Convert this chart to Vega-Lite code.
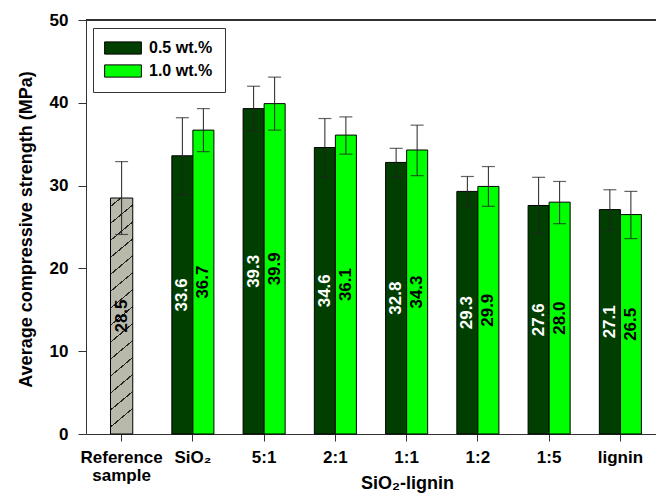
{
  "$schema": "https://vega.github.io/schema/vega-lite/v6.json",
  "width": 570,
  "height": 414,
  "autosize": {"type": "none"},
  "padding": {"left": 86, "top": 20, "right": 0, "bottom": 60},
  "background": "white",
  "config": {
    "view": {"stroke": null},
    "font": "Liberation Sans",
    "axis": {
      "labelFont": "Liberation Sans", "labelFontWeight": "bold", "labelFontSize": 17, "labelColor": "black",
      "titleFont": "Liberation Sans", "titleFontWeight": "bold", "titleFontSize": 18, "titleColor": "black",
      "domainColor": "#333", "tickColor": "#333", "grid": false, "tickSize": 7
    },
    "legend": {
      "labelFont": "Liberation Sans", "labelFontWeight": "bold", "labelFontSize": 16, "labelColor": "black"
    }
  },
  "data": {
    "values": [
      {"cat": "Reference sample", "series": "ref", "value": 28.5, "lo": 24.1, "hi": 32.9},
      {"cat": "SiO₂", "series": "0.5 wt.%", "value": 33.6, "lo": 28.9, "hi": 38.2},
      {"cat": "SiO₂", "series": "1.0 wt.%", "value": 36.7, "lo": 34.1, "hi": 39.3},
      {"cat": "5:1", "series": "0.5 wt.%", "value": 39.3, "lo": 36.6, "hi": 42.0},
      {"cat": "5:1", "series": "1.0 wt.%", "value": 39.9, "lo": 36.7, "hi": 43.1},
      {"cat": "2:1", "series": "0.5 wt.%", "value": 34.6, "lo": 31.0, "hi": 38.1},
      {"cat": "2:1", "series": "1.0 wt.%", "value": 36.1, "lo": 33.8, "hi": 38.3},
      {"cat": "1:1", "series": "0.5 wt.%", "value": 32.8, "lo": 31.0, "hi": 34.5},
      {"cat": "1:1", "series": "1.0 wt.%", "value": 34.3, "lo": 31.2, "hi": 37.3},
      {"cat": "1:2", "series": "0.5 wt.%", "value": 29.3, "lo": 27.5, "hi": 31.1},
      {"cat": "1:2", "series": "1.0 wt.%", "value": 29.9, "lo": 27.5, "hi": 32.3},
      {"cat": "1:5", "series": "0.5 wt.%", "value": 27.6, "lo": 24.2, "hi": 31.0},
      {"cat": "1:5", "series": "1.0 wt.%", "value": 28.0, "lo": 25.4, "hi": 30.5},
      {"cat": "lignin", "series": "0.5 wt.%", "value": 27.1, "lo": 24.6, "hi": 29.5},
      {"cat": "lignin", "series": "1.0 wt.%", "value": 26.5, "lo": 23.6, "hi": 29.3}
    ]
  },
  "encoding": {
    "x": {
      "field": "cat", "type": "nominal",
      "scale": {"domain": ["Reference sample", "SiO₂", "5:1", "2:1", "1:1", "1:2", "1:5", "lignin"], "paddingInner": 0.41, "paddingOuter": 0.205},
      "axis": {
        "labelAngle": 0, "labelPadding": 8, "labelLineHeight": 18,
        "labelExpr": "datum.label == 'Reference sample' ? ['Reference', 'sample'] : datum.label",
        "title": "SiO₂-lignin", "titleX": 321, "titleY": 54, "titleBaseline": "alphabetic", "titleAlign": "center"
      }
    }
  },
  "layer": [
    {
      "mark": {"type": "rule", "color": "#333", "strokeWidth": 1},
      "encoding": {"y": {"datum": 50, "type": "quantitative"}, "x": null}
    },
    {
      "transform": [{"filter": "datum.series == 'ref'"}],
      "mark": {
        "type": "bar", "width": {"band": 0.53}, "stroke": "black", "strokeWidth": 1,
        "fill": {
          "gradient": "linear", "x1": 0, "y1": 0, "x2": 0.079, "y2": 1,
          "stops": [
            {"offset": 0, "color": "#b9b9ab"},
            {"offset": 0.0327, "color": "#b9b9ab"}, {"offset": 0.0327, "color": "#222"}, {"offset": 0.0387, "color": "#222"}, {"offset": 0.0387, "color": "#b9b9ab"},
            {"offset": 0.1041, "color": "#b9b9ab"}, {"offset": 0.1041, "color": "#222"}, {"offset": 0.1101, "color": "#222"}, {"offset": 0.1101, "color": "#b9b9ab"},
            {"offset": 0.1756, "color": "#b9b9ab"}, {"offset": 0.1756, "color": "#222"}, {"offset": 0.1816, "color": "#222"}, {"offset": 0.1816, "color": "#b9b9ab"},
            {"offset": 0.247, "color": "#b9b9ab"}, {"offset": 0.247, "color": "#222"}, {"offset": 0.253, "color": "#222"}, {"offset": 0.253, "color": "#b9b9ab"},
            {"offset": 0.3184, "color": "#b9b9ab"}, {"offset": 0.3184, "color": "#222"}, {"offset": 0.3244, "color": "#222"}, {"offset": 0.3244, "color": "#b9b9ab"},
            {"offset": 0.3899, "color": "#b9b9ab"}, {"offset": 0.3899, "color": "#222"}, {"offset": 0.3959, "color": "#222"}, {"offset": 0.3959, "color": "#b9b9ab"},
            {"offset": 0.4613, "color": "#b9b9ab"}, {"offset": 0.4613, "color": "#222"}, {"offset": 0.4673, "color": "#222"}, {"offset": 0.4673, "color": "#b9b9ab"},
            {"offset": 0.5327, "color": "#b9b9ab"}, {"offset": 0.5327, "color": "#222"}, {"offset": 0.5387, "color": "#222"}, {"offset": 0.5387, "color": "#b9b9ab"},
            {"offset": 0.6041, "color": "#b9b9ab"}, {"offset": 0.6041, "color": "#222"}, {"offset": 0.6101, "color": "#222"}, {"offset": 0.6101, "color": "#b9b9ab"},
            {"offset": 0.6756, "color": "#b9b9ab"}, {"offset": 0.6756, "color": "#222"}, {"offset": 0.6816, "color": "#222"}, {"offset": 0.6816, "color": "#b9b9ab"},
            {"offset": 0.747, "color": "#b9b9ab"}, {"offset": 0.747, "color": "#222"}, {"offset": 0.753, "color": "#222"}, {"offset": 0.753, "color": "#b9b9ab"},
            {"offset": 0.8184, "color": "#b9b9ab"}, {"offset": 0.8184, "color": "#222"}, {"offset": 0.8244, "color": "#222"}, {"offset": 0.8244, "color": "#b9b9ab"},
            {"offset": 0.8899, "color": "#b9b9ab"}, {"offset": 0.8899, "color": "#222"}, {"offset": 0.8959, "color": "#222"}, {"offset": 0.8959, "color": "#b9b9ab"},
            {"offset": 0.9613, "color": "#b9b9ab"}, {"offset": 0.9613, "color": "#222"}, {"offset": 0.9673, "color": "#222"}, {"offset": 0.9673, "color": "#b9b9ab"},
            {"offset": 1, "color": "#b9b9ab"}
          ]
        }
      },
      "encoding": {
        "y": {
          "field": "value", "type": "quantitative",
          "scale": {"domain": [0, 50], "nice": false},
          "axis": {
            "values": [0, 10, 20, 30, 40, 50], "tickSize": 8, "labelPadding": 10,
            "title": "Average compressive strength (MPa)", "titleX": -60, "titleY": 209, "titleAngle": -90,
            "titleAlign": "center", "titleBaseline": "middle"
          }
        }
      }
    },
    {
      "transform": [{"filter": "datum.series != 'ref'"}],
      "mark": {"type": "bar", "stroke": "black", "strokeWidth": 1},
      "encoding": {
        "xOffset": {"field": "series", "type": "nominal", "scale": {"domain": ["0.5 wt.%", "1.0 wt.%"], "paddingInner": 0, "paddingOuter": 0}},
        "y": {"field": "value", "type": "quantitative"},
        "color": {
          "field": "series", "type": "nominal",
          "scale": {"domain": ["0.5 wt.%", "1.0 wt.%"], "range": ["#003f00", "#00ff00"]},
          "legend": {
            "title": null, "orient": "none", "legendX": 7, "legendY": 8,
            "symbolType": "M-3,-1L3,-1L3,1L-3,1Z", "symbolSize": 150, "symbolOffset": 10,
            "symbolStrokeColor": "black", "symbolStrokeWidth": 1, "symbolOpacity": 1,
            "strokeColor": "#333", "fillColor": "white", "padding": 12, "rowPadding": 5, "labelOffset": 18
          }
        }
      }
    },
    {
      "transform": [{"filter": "datum.series == 'ref'"}],
      "mark": {"type": "rule", "color": "#222", "strokeWidth": 1},
      "encoding": {"y": {"field": "lo", "type": "quantitative"}, "y2": {"field": "hi"}}
    },
    {
      "transform": [{"filter": "datum.series == 'ref'"}, {"fold": ["lo", "hi"], "as": ["k", "v"]}],
      "mark": {"type": "tick", "color": "#222", "size": 13, "thickness": 1.2},
      "encoding": {"y": {"field": "v", "type": "quantitative"}}
    },
    {
      "transform": [{"filter": "datum.series != 'ref'"}],
      "mark": {"type": "rule", "color": "#222", "strokeWidth": 1},
      "encoding": {
        "xOffset": {"field": "series", "type": "nominal"},
        "y": {"field": "lo", "type": "quantitative"}, "y2": {"field": "hi"}
      }
    },
    {
      "transform": [{"filter": "datum.series != 'ref'"}, {"fold": ["lo", "hi"], "as": ["k", "v"]}],
      "mark": {"type": "tick", "color": "#222", "size": 13, "thickness": 1.2},
      "encoding": {
        "xOffset": {"field": "series", "type": "nominal"},
        "y": {"field": "v", "type": "quantitative"}
      }
    },
    {
      "transform": [{"filter": "datum.series == 'ref'"}, {"calculate": "datum.value / 2", "as": "mid"}],
      "mark": {"type": "text", "angle": 270, "align": "center", "baseline": "middle", "font": "Liberation Sans", "fontWeight": "bold", "fontSize": 17, "color": "black"},
      "encoding": {
        "y": {"field": "mid", "type": "quantitative"},
        "text": {"field": "value", "type": "quantitative", "format": ".1f"}
      }
    },
    {
      "transform": [{"filter": "datum.series != 'ref'"}, {"calculate": "datum.value / 2", "as": "mid"}],
      "mark": {"type": "text", "angle": 270, "align": "center", "baseline": "middle", "font": "Liberation Sans", "fontWeight": "bold", "fontSize": 17},
      "encoding": {
        "xOffset": {"field": "series", "type": "nominal"},
        "y": {"field": "mid", "type": "quantitative"},
        "text": {"field": "value", "type": "quantitative", "format": ".1f"},
        "fill": {"condition": {"test": "datum.series == '0.5 wt.%'", "value": "white"}, "value": "black"}
      }
    }
  ]
}
